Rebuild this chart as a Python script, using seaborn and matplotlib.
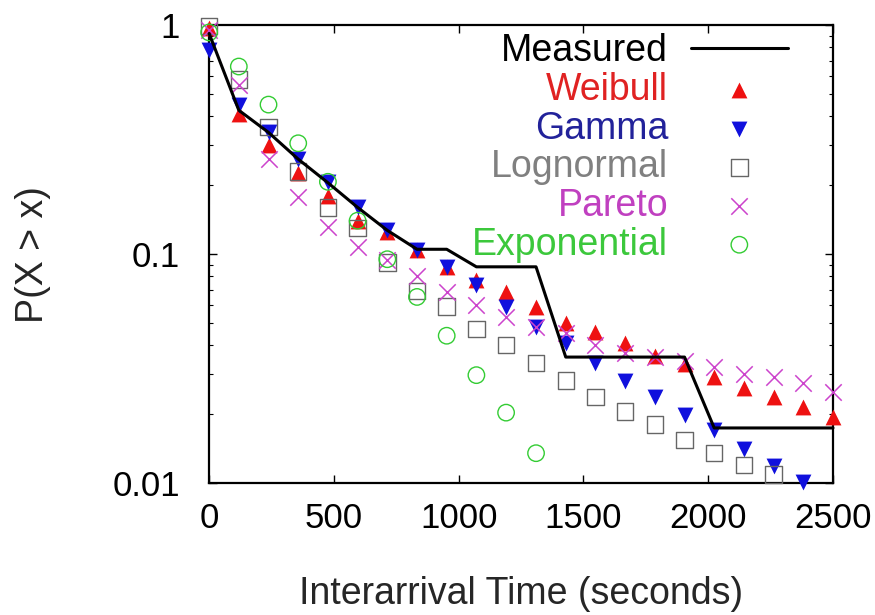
import matplotlib

matplotlib.use("Agg")

import matplotlib.pyplot as plt
import matplotlib.ticker as mticker
import seaborn as sns


# interarrival time grid (seconds)
times = [0, 119, 238, 357, 476, 595, 714, 833, 952, 1071, 1190,
         1310, 1429, 1548, 1667, 1786, 1905, 2024, 2143, 2262, 2381, 2500]

measured = [0.92, 0.425, 0.34, 0.26, 0.205, 0.16, 0.127, 0.105, 0.105, 0.088, 0.088,
            0.088, 0.0355, 0.0355, 0.0355, 0.0355, 0.0355, 0.0174, 0.0174, 0.0174, 0.0174, 0.0174]
weibull = [0.97, 0.41, 0.30, 0.226, 0.18, 0.14, 0.125, 0.104, 0.088, 0.077, 0.068,
           0.059, 0.050, 0.0457, 0.041, 0.036, 0.033, 0.029, 0.026, 0.0238, 0.0215, 0.0194]
gamma = [0.78, 0.45, 0.34, 0.26, 0.206, 0.16, 0.127, 0.104, 0.088, 0.073, 0.059,
         0.048, 0.041, 0.0335, 0.028, 0.0238, 0.0198, 0.017, 0.0141, 0.0119, 0.0101]
lognormal = [0.99, 0.58, 0.36, 0.23, 0.16, 0.13, 0.092, 0.069, 0.059, 0.047, 0.040,
             0.0335, 0.028, 0.0238, 0.0205, 0.018, 0.0154, 0.0135, 0.012, 0.0109]
pareto = [0.95, 0.55, 0.26, 0.177, 0.131, 0.107, 0.094, 0.08, 0.068, 0.060, 0.053,
          0.048, 0.045, 0.040, 0.037, 0.0355, 0.034, 0.032, 0.030, 0.029, 0.0273, 0.025]
exponential = [0.93, 0.66, 0.45, 0.305, 0.207, 0.14, 0.095, 0.065, 0.044, 0.0296, 0.0203, 0.0135]

x_ticks = [0, 500, 1000, 1500, 2000, 2500]
y_ticks = [0.01, 0.1, 1]
y_tick_labels = ["0.01", "0.1", "1"]

sns.set_theme(style="ticks")
plt.rcParams["font.family"] = ["Liberation Sans", "DejaVu Sans"]
plt.rcParams["xtick.direction"] = "in"
plt.rcParams["ytick.direction"] = "in"

FS = 25
LFS = 27

fig, ax = plt.subplots(figsize=(8.75, 6.15), dpi=100)
fig.subplots_adjust(left=0.239, right=0.952, top=0.959, bottom=0.2146)

sns.lineplot(x=times, y=measured, color="black", linewidth=2.2, ax=ax,
             label="Measured", zorder=5, clip_on=False)

fits = [
    ("Weibull", weibull, "^", "#ee1111", True),
    ("Gamma", gamma, "v", "#1010dd", True),
    ("Lognormal", lognormal, "s", "#666666", False),
    ("Pareto", pareto, "x", "#cc44cc", False),
    ("Exponential", exponential, "o", "#33cc33", False),
]
for name, vals, mk, col, filled in fits:
    xs = times[:len(vals)]
    if filled:
        sns.scatterplot(x=xs, y=vals, marker=mk, color=col, s=130, linewidth=0,
                        ax=ax, label=name, clip_on=False, zorder=4)
    elif mk == "x":
        sns.scatterplot(x=xs, y=vals, marker=mk, color=col, s=140, linewidth=1.1,
                        ax=ax, label=name, clip_on=False, zorder=4)
    else:
        sns.scatterplot(x=xs, y=vals, marker=mk, facecolor="none", edgecolor=col,
                        color=col, s=140, linewidth=1.0, ax=ax, label=name,
                        clip_on=False, zorder=4)

ax.set_yscale("log")
ax.set_xlim(0, 2500)
ax.set_ylim(0.01, 1)
ax.set_xticks(x_ticks)
ax.set_xticklabels([str(t) for t in x_ticks])
ax.yaxis.set_major_locator(mticker.FixedLocator(y_ticks))
ax.yaxis.set_major_formatter(mticker.FixedFormatter(y_tick_labels))
ax.yaxis.set_minor_locator(mticker.LogLocator(base=10, subs=range(2, 10)))
ax.yaxis.set_minor_formatter(mticker.NullFormatter())

ax.tick_params(which="both", top=True, right=True, labelsize=FS, colors="black")
ax.tick_params(axis="x", which="major", length=6, width=1, pad=14)
ax.tick_params(axis="y", which="major", length=6, width=1, pad=21)
ax.tick_params(axis="y", which="minor", length=3, width=0.8)
for sp in ax.spines.values():
    sp.set_linewidth(1.6)
    sp.set_color("black")

ax.set_xlabel("Interarrival Time (seconds)", fontsize=LFS, labelpad=29)
ax.set_ylabel("P(X > x)", fontsize=LFS, labelpad=44)

leg = ax.legend(loc="upper right", bbox_to_anchor=(0.928, 0.982), frameon=False,
                markerfirst=False, fontsize=LFS, handlelength=2.6, handletextpad=0.6,
                labelspacing=0.07, borderpad=0, borderaxespad=0)
text_colors = ["black", "#e02222", "#22229a", "#808080", "#c040c0", "#3cc83c"]
for txt, c in zip(leg.get_texts(), text_colors):
    txt.set_color(c)

fig.savefig("out.png", dpi=100)
